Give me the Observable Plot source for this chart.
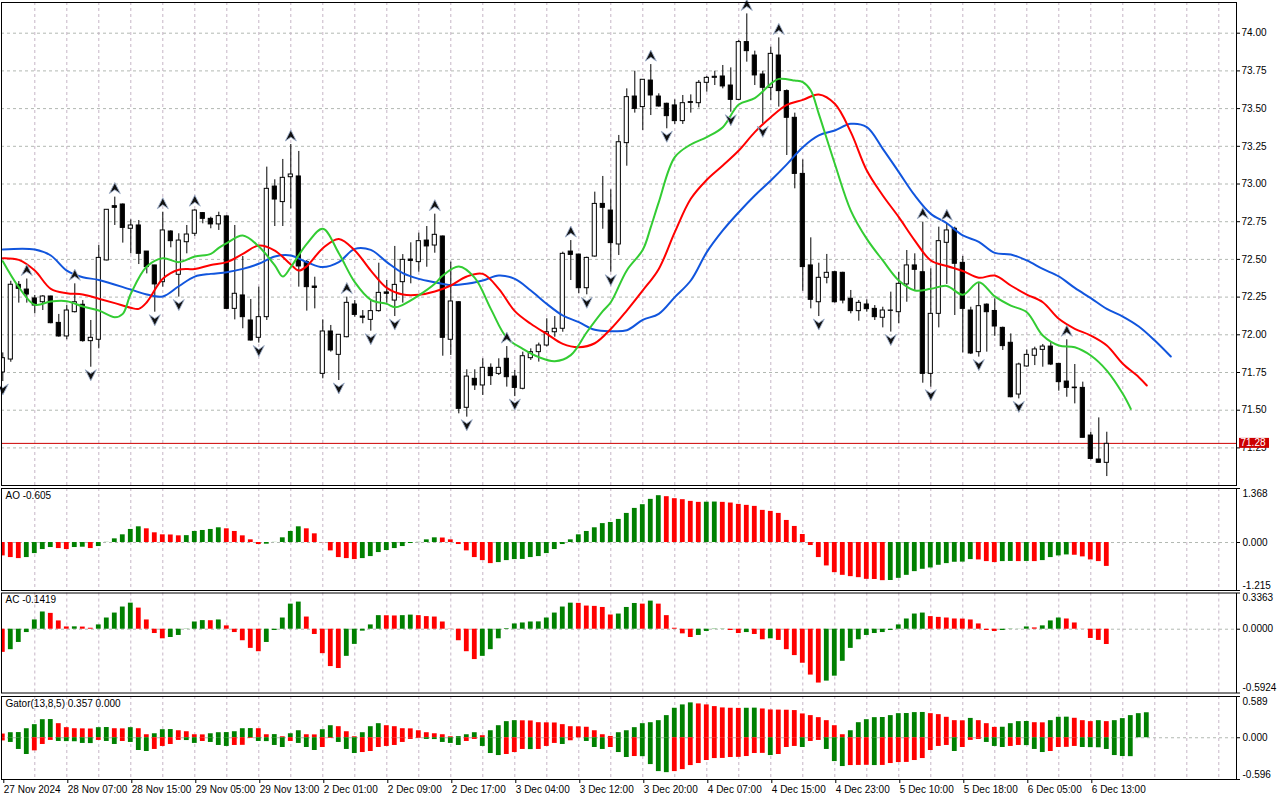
<!DOCTYPE html>
<html><head><meta charset="utf-8">
<script src="https://cdn.jsdelivr.net/npm/d3@7"></script>
<script src="https://cdn.jsdelivr.net/npm/@observablehq/plot@0.6"></script>
<style>
html,body{margin:0;padding:0;background:#fff;}
#chart{position:relative;width:1280px;height:800px;overflow:hidden;background:#fff;font-family:"Liberation Sans",Arial,sans-serif;}
</style></head><body><div id="chart"></div>
<script>
// ---------- DATA ----------
const open = [71.75,71.836,72.331,72.30,72.241,72.216,72.254,72.079,71.989,72.15,
72.199,71.958,71.967,72.493,72.853,72.864,72.703,72.725,72.552,72.46,
72.349,72.685,72.398,72.614,72.67,72.807,72.769,72.732,72.785,72.172,
72.261,72.095,71.98,72.117,72.983,72.88,73.045,73.05,72.482,72.32,
71.741,72.022,71.867,71.984,72.201,72.121,72.099,72.157,72.281,72.227,
72.349,72.499,72.482,72.625,72.592,72.652,71.967,72.216,71.516,71.708,
71.664,71.781,71.741,71.841,71.723,71.642,71.845,71.885,71.929,72.017,
72.04,72.552,72.532,72.309,72.519,72.868,72.824,72.599,73.271,73.58,
73.51,73.686,73.58,73.532,73.521,73.417,73.543,73.536,73.671,73.704,
73.713,73.653,73.558,73.941,73.852,73.726,73.638,73.852,73.616,73.439,
73.067,72.46,72.216,72.378,72.415,72.411,72.239,72.157,72.201,72.172,
72.113,72.161,72.15,72.334,72.46,72.415,71.741,72.139,72.61,72.703,
72.477,72.161,71.885,72.2,72.158,72.046,71.947,71.604,71.79,71.861,
71.9,71.922,71.807,71.69,71.65,71.648,71.332,71.173,71.151];
const high = [71.88,72.355,72.353,72.37,72.261,72.26,72.256,72.135,72.194,72.338,
72.227,72.095,72.592,72.83,72.913,72.868,72.762,72.758,72.552,72.46,
72.813,72.69,72.67,72.725,72.83,72.81,72.78,72.813,72.79,72.725,
72.519,72.234,72.316,73.112,73.028,73.163,73.262,73.216,72.493,72.382,
72.099,72.062,72.00,72.25,72.227,72.161,72.227,72.475,72.36,72.586,
72.532,72.61,72.674,72.718,72.80,72.655,72.482,72.22,71.768,71.768,
71.841,71.807,71.841,71.922,71.763,71.885,71.907,71.945,72.106,72.121,
72.548,72.625,72.535,72.515,72.946,73.05,72.961,73.322,73.631,73.748,
73.691,73.792,73.598,73.536,73.558,73.587,73.591,73.686,73.713,73.748,
73.786,73.77,73.952,74.128,73.881,73.748,73.907,73.969,73.624,73.47,
73.16,72.643,72.475,72.533,72.422,72.415,72.294,72.228,72.232,72.194,
72.183,72.283,72.415,72.559,72.537,72.747,72.437,72.714,72.736,72.714,
72.52,72.183,72.34,72.205,72.238,72.051,72.006,71.812,71.9,71.918,
71.936,71.951,71.81,71.967,71.803,71.686,71.354,71.449,71.354];
const low = [71.69,71.818,72.21,72.21,72.139,72.161,72.073,71.984,71.967,72.145,
71.951,71.785,71.907,72.49,72.725,72.608,72.537,72.466,72.404,72.15,
72.316,72.577,72.25,72.537,72.652,72.736,72.703,72.692,72.17,72.099,
72.04,71.958,71.945,72.095,72.718,72.718,72.835,72.316,72.157,72.172,
71.708,71.885,71.697,71.98,72.117,72.073,72.024,72.15,72.21,72.121,
72.21,72.338,72.415,72.448,72.541,71.858,71.863,71.476,71.454,71.631,
71.598,71.664,71.73,71.653,71.59,71.635,71.83,71.819,71.92,71.984,
72.017,72.36,72.272,72.265,72.515,72.70,72.415,72.526,73.118,73.47,
73.355,73.454,73.51,73.366,73.395,73.395,73.47,73.505,73.609,73.653,
73.631,73.476,73.554,73.808,73.653,73.399,73.554,73.51,73.189,72.968,
72.289,72.172,72.121,72.338,72.21,72.205,72.139,72.09,72.15,72.095,
72.046,72.018,72.073,72.216,72.294,71.679,71.653,72.046,72.334,72.128,
71.88,71.869,71.852,71.885,71.99,71.896,71.582,71.575,71.785,71.796,
71.785,71.796,71.626,71.586,71.542,71.317,71.171,71.15,71.06];
const close = [71.845,72.332,72.305,72.267,72.194,72.254,72.077,71.989,72.161,72.216,
71.958,71.98,72.51,72.829,72.842,72.709,72.725,72.537,72.449,72.334,
72.692,72.621,72.625,72.665,72.824,72.769,72.732,72.787,72.172,72.272,
72.117,71.962,72.117,72.968,72.897,73.041,73.063,72.453,72.316,72.311,
72.022,71.896,72.00,72.212,72.132,72.113,72.157,72.278,72.272,72.331,
72.497,72.49,72.621,72.586,72.663,71.98,72.221,71.509,71.723,71.664,
71.781,71.726,71.781,71.719,71.648,71.858,71.885,71.929,72.017,72.04,
72.537,72.53,72.309,72.51,72.868,72.842,72.608,73.277,73.576,73.498,
73.691,73.587,73.514,73.45,73.417,73.536,73.538,73.671,73.704,73.711,
73.647,73.558,73.941,73.881,73.72,73.638,73.863,73.616,73.439,73.067,
72.449,72.232,72.378,72.411,72.216,72.227,72.157,72.212,72.17,72.117,
72.161,72.159,72.338,72.46,72.431,71.741,72.139,72.621,72.692,72.471,
72.172,71.876,72.19,72.15,72.055,71.925,71.586,71.803,71.867,71.903,
71.922,71.803,71.686,71.648,71.646,71.317,71.177,71.151,71.277];

// Alligator lines (bar index, value)
const jawIdx = [0,4,6,8,10,12,16,18,20,22,24,26,28,30,32,34,36,38,40,42,44,46,48,50,52,54,56,58,60,62,64,66,68,70,72,74,76,78,80,82,84,86,88,90,92,94,96,98,100,102,104,106,108,110,112,114,116,118,120,122,124,126,128,130,132,134,136,138,140,142,144,146];
const jawVal = [72.566,72.566,72.526,72.426,72.382,72.364,72.300,72.267,72.254,72.322,72.386,72.404,72.415,72.437,72.471,72.519,72.526,72.482,72.449,72.482,72.570,72.563,72.482,72.409,72.371,72.349,72.330,72.338,72.360,72.393,72.371,72.294,72.205,72.128,72.084,72.033,72.024,72.030,72.099,72.139,72.250,72.360,72.548,72.692,72.813,72.924,73.023,73.130,73.244,73.322,73.355,73.399,73.377,73.233,73.079,72.924,72.802,72.740,72.659,72.617,72.543,72.533,72.493,72.437,72.387,72.311,72.243,72.172,72.121,72.055,71.962,71.856];
const teethIdx = [0,2,4,6,8,10,12,14,16,17,18,20,22,24,26,28,30,32,34,36,37,38,40,42,44,46,48,50,52,54,56,58,60,62,64,66,68,70,72,74,76,78,80,82,84,86,88,90,92,94,96,98,100,102,104,106,108,110,112,114,116,118,120,122,124,126,128,130,132,134,136,138,140,142,143];
const teethVal = [72.508,72.497,72.426,72.305,72.276,72.267,72.239,72.210,72.179,72.172,72.216,72.371,72.431,72.437,72.463,72.482,72.537,72.592,72.559,72.466,72.426,72.455,72.574,72.636,72.559,72.426,72.311,72.267,72.265,72.287,72.327,72.387,72.404,72.305,72.157,72.073,72.006,71.940,71.918,71.944,72.039,72.161,72.294,72.437,72.681,72.902,73.028,73.123,73.222,73.344,73.443,73.525,73.558,73.594,73.532,73.344,73.090,72.924,72.780,72.625,72.493,72.456,72.423,72.378,72.393,72.327,72.267,72.216,72.106,72.040,71.995,71.929,71.808,71.719,71.664];
const lipsIdx = [0,2,4,6,8,10,12,14,15,16,18,20,22,24,26,27,28,30,32,34,35,36,38,40,42,44,46,48,49,50,52,54,55,57,59,61,63,65,67,69,71,73,75,76,78,80,81,82,84,86,88,90,92,94,96,97,99,100,101,102,104,106,108,110,112,114,116,118,120,122,124,126,128,130,132,134,136,138,140,141];
const lipsVal = [72.488,72.316,72.199,72.221,72.223,72.188,72.161,72.117,72.139,72.272,72.453,72.508,72.482,72.519,72.537,72.577,72.608,72.658,72.586,72.460,72.386,72.449,72.603,72.703,72.541,72.349,72.232,72.205,72.183,72.199,72.261,72.338,72.393,72.453,72.378,72.172,71.980,71.907,71.852,71.825,71.865,72.017,72.157,72.216,72.427,72.564,72.714,72.880,73.178,73.262,73.311,73.377,73.527,73.569,73.664,73.697,73.686,73.675,73.620,73.465,73.134,72.824,72.636,72.493,72.360,72.294,72.305,72.324,72.266,72.349,72.255,72.194,72.150,71.995,71.929,71.918,71.863,71.763,71.609,71.509];

// Fractal bars
const fracUp = [3,9,14,20,24,36,43,54,63,71,81,93,97,115,118,133];
const fracDown = [0,11,19,22,32,42,46,49,58,64,73,76,83,91,95,102,111,116,122,127];

// Awesome Oscillator (value before first bar, then per bar)
const aoBefore = -0.30;
const ao = [-0.339,-0.381,-0.407,-0.381,-0.280,-0.178,-0.127,-0.153,-0.178,-0.127,
-0.119,-0.153,-0.102,0.004,0.093,0.195,0.331,0.398,0.347,0.246,
0.195,0.191,0.169,0.174,0.280,0.305,0.331,0.373,0.347,0.280,
0.169,0.068,-0.051,-0.042,0.003,0.119,0.280,0.398,0.347,0.220,
-0.004,-0.212,-0.381,-0.407,-0.432,-0.407,-0.356,-0.254,-0.203,-0.153,
-0.102,-0.025,0.004,0.068,0.119,0.114,0.068,-0.051,-0.212,-0.381,
-0.458,-0.534,-0.508,-0.458,-0.432,-0.428,-0.381,-0.356,-0.280,-0.178,
-0.051,0.068,0.195,0.280,0.373,0.479,0.508,0.585,0.737,0.864,
0.958,1.093,1.186,1.161,1.110,1.085,1.042,1.017,1.021,1.025,
1.017,1.000,0.966,0.941,0.915,0.814,0.788,0.737,0.559,0.407,
0.203,-0.076,-0.381,-0.593,-0.763,-0.831,-0.864,-0.890,-0.932,-0.936,
-0.966,-0.962,-0.907,-0.831,-0.737,-0.678,-0.644,-0.576,-0.534,-0.500,
-0.496,-0.432,-0.441,-0.483,-0.508,-0.483,-0.479,-0.483,-0.479,-0.483,
-0.458,-0.381,-0.339,-0.314,-0.322,-0.364,-0.441,-0.483,-0.605];

// Accelerator Oscillator
const acBefore = -0.16;
const ac = [-0.215,-0.190,-0.123,-0.031,0.086,0.160,0.147,0.077,0.021,0.022,
0.020,0.009,0.040,0.104,0.150,0.206,0.242,0.196,0.086,-0.040,
-0.089,-0.077,-0.058,0.002,0.067,0.080,0.079,0.086,0.031,-0.031,
-0.107,-0.178,-0.209,-0.123,-0.012,0.104,0.233,0.252,0.113,-0.049,
-0.227,-0.347,-0.365,-0.252,-0.141,-0.018,0.040,0.126,0.125,0.123,
0.126,0.131,0.126,0.117,0.113,0.067,-0.002,-0.107,-0.209,-0.282,
-0.252,-0.190,-0.089,0.006,0.049,0.058,0.067,0.068,0.104,0.150,
0.206,0.242,0.240,0.215,0.212,0.202,0.132,0.141,0.202,0.239,
0.233,0.261,0.233,0.126,0.009,-0.043,-0.077,-0.058,-0.021,-0.003,
-0.002,-0.012,-0.040,-0.031,-0.049,-0.098,-0.089,-0.104,-0.190,-0.245,
-0.316,-0.426,-0.500,-0.482,-0.436,-0.298,-0.178,-0.098,-0.058,-0.040,
-0.031,-0.012,0.040,0.095,0.141,0.150,0.117,0.110,0.104,0.095,
0.094,0.086,0.049,-0.012,-0.021,-0.012,-0.002,0.001,0.021,0.012,
0.031,0.077,0.104,0.095,0.058,-0.001,-0.086,-0.104,-0.142];

// Gator oscillator
const gatorUpBefore = 0.06;
const gatorUp = [0.053,0.072,0.074,0.129,0.187,0.258,0.260,0.201,0.144,0.129,
0.127,0.125,0.144,0.146,0.129,0.127,0.144,0.129,0.043,0.057,
0.115,0.117,0.100,0.086,0.043,0.041,0.057,0.072,0.074,0.086,
0.129,0.131,0.129,0.043,0.045,0.014,0.057,0.100,0.043,0.041,
0.115,0.172,0.158,0.086,0.014,0.072,0.158,0.201,0.172,0.158,
0.129,0.127,0.100,0.072,0.057,0.043,0.014,0.016,0.043,0.072,
0.029,0.100,0.172,0.230,0.244,0.242,0.240,0.215,0.213,0.211,
0.187,0.158,0.156,0.150,0.100,0.043,0.019,0.072,0.100,0.144,
0.201,0.215,0.244,0.316,0.421,0.469,0.498,0.483,0.469,0.445,
0.426,0.421,0.419,0.421,0.423,0.411,0.397,0.395,0.393,0.388,
0.340,0.316,0.287,0.244,0.172,0.043,0.100,0.215,0.258,0.287,
0.289,0.316,0.344,0.346,0.359,0.361,0.344,0.330,0.292,0.244,
0.242,0.276,0.244,0.201,0.148,0.150,0.201,0.230,0.232,0.215,
0.213,0.244,0.292,0.294,0.278,0.244,0.230,0.244,0.230,0.244,
0.273,0.316,0.344,0.357];
const gatorDownBefore = -0.06;
const gatorDown = [-0.045,-0.067,-0.167,-0.239,-0.187,-0.096,-0.038,-0.053,-0.055,-0.057,
-0.081,-0.083,-0.038,-0.053,-0.096,-0.053,-0.067,-0.182,-0.196,-0.167,
-0.124,-0.096,-0.038,-0.040,-0.081,-0.053,-0.067,-0.110,-0.124,-0.110,
-0.108,-0.010,-0.053,-0.055,-0.110,-0.139,-0.053,-0.081,-0.139,-0.182,
-0.139,-0.010,-0.067,-0.167,-0.225,-0.211,-0.196,-0.139,-0.124,-0.110,
-0.067,-0.024,-0.010,-0.024,-0.026,-0.067,-0.081,-0.110,-0.053,-0.024,
-0.124,-0.225,-0.254,-0.239,-0.211,-0.167,-0.169,-0.167,-0.124,-0.081,
-0.096,-0.043,-0.002,-0.053,-0.139,-0.167,-0.139,-0.211,-0.282,-0.268,
-0.270,-0.383,-0.483,-0.498,-0.483,-0.455,-0.397,-0.368,-0.325,-0.297,
-0.295,-0.282,-0.280,-0.268,-0.225,-0.223,-0.254,-0.239,-0.139,-0.124,
-0.139,-0.053,-0.038,-0.167,-0.340,-0.411,-0.397,-0.395,-0.393,-0.397,
-0.395,-0.368,-0.354,-0.352,-0.325,-0.297,-0.182,-0.124,-0.110,-0.196,
-0.139,-0.038,-0.024,-0.067,-0.124,-0.139,-0.124,-0.110,-0.112,-0.167,
-0.211,-0.196,-0.139,-0.137,-0.124,-0.139,-0.141,-0.143,-0.167,-0.254,
-0.268,-0.270];

const priceTicks = [71.25,71.50,71.75,72.00,72.25,72.50,72.75,73.00,73.25,73.50,73.75,74.00];
const lastPrice = 71.28;
const timeLabels = ["27 Nov 2024","28 Nov 07:00","28 Nov 15:00","29 Nov 05:00","29 Nov 13:00","2 Dec 01:00","2 Dec 09:00","2 Dec 17:00","3 Dec 04:00","3 Dec 12:00","3 Dec 20:00","4 Dec 07:00","4 Dec 15:00","4 Dec 23:00","5 Dec 10:00","5 Dec 18:00","6 Dec 05:00","6 Dec 13:00"];
const timeLabelBars = timeLabels.map((_, k) => k * 8);
const gridBars = d3.range(4, 153, 4);

// ---------- CHART ----------
const FONT = '"Liberation Sans", Arial, sans-serif';
const W = 1280, ML = 1, MR = 44;
const xDom = [(ML - 2.3) / 8, (W - MR - 2.3) / 8];
const GREEN = "#008000", RED = "#ff0000";
const HGRID = "#b2b8b2", VGRID = "#c6b6c6";
const style = {fontFamily: FONT, fontSize: "10px", background: "#fff", color: "#000"};
const chart = document.getElementById("chart");
function place(svg, top) {
  svg.style.position = "absolute"; svg.style.left = "0px"; svg.style.top = top + "px";
  chart.appendChild(svg);
}
const candles = open.map((o, i) => ({i, o, h: high[i], l: low[i], c: close[i]}));
const pts = (idx, val) => idx.map((i, k) => ({i, v: val[k]}));

const upArrow = {draw(ctx, size) { const r = Math.sqrt(size / Math.PI);
  ctx.moveTo(0, -r); ctx.lineTo(r, r); ctx.lineTo(0, r * 0.3); ctx.lineTo(-r, r); ctx.closePath(); }};
const downArrow = {draw(ctx, size) { const r = Math.sqrt(size / Math.PI);
  ctx.moveTo(0, r); ctx.lineTo(r, -r); ctx.lineTo(0, -r * 0.3); ctx.lineTo(-r, -r); ctx.closePath(); }};

const main = Plot.plot({
  width: W, height: 486, marginLeft: ML, marginRight: MR, marginTop: 2, marginBottom: 1,
  style, color: {type: "identity"},
  x: {domain: xDom, axis: null},
  y: {domain: [71.0007, 74.2036], label: null},
  marks: [
    Plot.ruleY(priceTicks, {stroke: HGRID, strokeDasharray: "3,3"}),
    Plot.ruleX(gridBars, {stroke: VGRID, strokeDasharray: "3,3"}),
    Plot.ruleY([lastPrice], {stroke: "#cc0000"}),
    Plot.ruleX(candles, {x: "i", y1: "l", y2: "h", stroke: "#000", clip: true}),
    Plot.rect(candles, {x1: d => d.i - 0.26, x2: d => d.i + 0.26, y1: "o", y2: "c",
      fill: d => d.c >= d.o ? "#fff" : "#000", stroke: "#000", clip: true}),
    Plot.line(pts(jawIdx, jawVal), {x: "i", y: "v", stroke: "#1155dd", strokeWidth: 2, curve: "catmull-rom"}),
    Plot.line(pts(teethIdx, teethVal), {x: "i", y: "v", stroke: "#ff0000", strokeWidth: 2, curve: "catmull-rom"}),
    Plot.line(pts(lipsIdx, lipsVal), {x: "i", y: "v", stroke: "#33cc33", strokeWidth: 2, curve: "catmull-rom"}),
    Plot.dot(fracUp, {x: d => d, y: d => high[d], dy: -9, r: 5.5, symbol: upArrow, fill: "#111", stroke: "#9fb0cc", strokeWidth: 0.9}),
    Plot.dot(fracDown, {x: d => d, y: d => low[d], dy: 8, r: 5.5, symbol: downArrow, fill: "#111", stroke: "#9fb0cc", strokeWidth: 0.9}),
    Plot.frame({stroke: "#000"}),
    Plot.axisY(priceTicks, {anchor: "right", label: null, tickSize: 3, tickPadding: 2, tickFormat: d => d.toFixed(2), fontSize: 10})
  ]
});
place(main, 0);
{
  const ty = main.scale("y").apply(lastPrice);
  const g = d3.select(main).append("g").attr("text-anchor", "start");
  g.append("rect").attr("x", 1239).attr("y", ty - 5).attr("width", 30).attr("height", 10).attr("fill", "#cc0000");
  g.append("text").attr("x", 1240.5).attr("y", ty).attr("dy", "0.36em").attr("fill", "#fff")
    .attr("text-anchor", "start").attr("font-size", 10).attr("font-family", FONT).text(lastPrice.toFixed(2));
}

function colorize(vals, before, useAbs) {
  return vals.map((v, i) => {
    const p = i ? vals[i - 1] : before;
    const up = useAbs ? Math.abs(v) > Math.abs(p) : v > p;
    return {i, v, col: up ? GREEN : RED};
  });
}
function barsMark(data) {
  return Plot.rect(data, {x1: d => d.i - 0.3, x2: d => d.i + 0.3, y1: 0, y2: "v", fill: "col", clip: true});
}
function osc({top, height, mt, mb, domain, title, labels, bars, timeAxis}) {
  const marks = [
    Plot.ruleX(gridBars, {stroke: VGRID, strokeDasharray: "3,3"}),
    Plot.ruleY([0], {stroke: HGRID, strokeDasharray: "3,3"}),
    ...bars,
    Plot.frame({stroke: "#000"}),
    Plot.text([title], {frameAnchor: "top-left", dx: 4, dy: 3, lineAnchor: "top", textAnchor: "start", fontSize: 10}),
    Plot.axisY(labels.map(l => l.v), {anchor: "right", label: null, tickSize: 3, tickFormat: () => ""}),
    ...labels.map(l => Plot.text([l], {y: "v", text: "t", frameAnchor: "right", dx: 6, dy: l.dy, textAnchor: "start", fontSize: 10}))
  ];
  if (timeAxis) marks.push(Plot.axisX(timeLabelBars, {anchor: "bottom", label: null, tickSize: 4, tickPadding: 2,
    tickFormat: d => timeLabels[timeLabelBars.indexOf(d)], textAnchor: "start", dx: 1, fontSize: 10}));
  const svg = Plot.plot({
    width: W, height, marginLeft: ML, marginRight: MR, marginTop: mt, marginBottom: mb,
    style, color: {type: "identity"},
    x: timeAxis ? {domain: xDom, label: null} : {domain: xDom, axis: null},
    y: {domain, label: null},
    marks
  });
  place(svg, top);
  return svg;
}

osc({top: 487, height: 104, mt: 1, mb: 1, domain: [-1.215, 1.368], title: "AO -0.605",
  labels: [{v: 1.368, t: "1.368", dy: 5}, {v: 0, t: "0.000", dy: 0}, {v: -1.215, t: "-1.215", dy: -5}],
  bars: [barsMark(colorize(ao, aoBefore, false))]});

osc({top: 591, height: 103, mt: 1.5, mb: 1.5, domain: [-0.5924, 0.3363], title: "AC -0.1419",
  labels: [{v: 0.3363, t: "0.3363", dy: 5}, {v: 0, t: "0.0000", dy: 0}, {v: -0.5924, t: "-0.5924", dy: -5}],
  bars: [barsMark(colorize(ac, acBefore, false))]});

osc({top: 695, height: 105, mt: 1, mb: 21, domain: [-0.596, 0.589], title: "Gator(13,8,5) 0.357 0.000",
  labels: [{v: 0.589, t: "0.589", dy: 5}, {v: 0, t: "0.000", dy: 0}, {v: -0.596, t: "-0.596", dy: -5}],
  bars: [barsMark(colorize(gatorUp, gatorUpBefore, true)), barsMark(colorize(gatorDown, gatorDownBefore, true))],
  timeAxis: true});
</script>
</body></html>
